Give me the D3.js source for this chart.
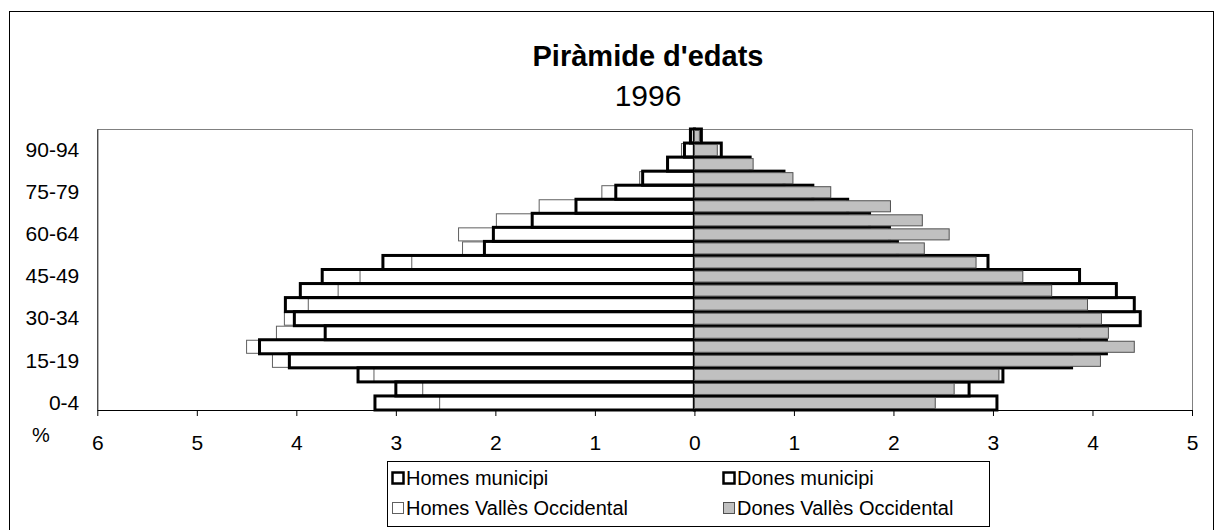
<!DOCTYPE html>
<html>
<head>
  <meta charset="utf-8">
  <title>Piràmide d'edats</title>
  <script src="https://d3js.org/d3.v7.min.js"></script>
  <style>
    body { margin: 0; background: #fff; }
    svg { display: block; font-family: "Liberation Sans", Arial, sans-serif; }
    .axis path, .axis line { stroke: #000; }
    .axis text { font-size: 21px; fill: #000; }
  </style>
</head>
<body>
  <svg width="1223" height="530"></svg>
  <script>
    // age groups, bottom to top
    const ages = ["0-4", "5-9", "10-14", "15-19", "20-24", "25-29", "30-34", "35-39", "40-44",
      "45-49", "50-54", "55-59", "60-64", "65-69", "70-74", "75-79", "80-84", "85-89", "90-94", "95-99"];
    const ageLabels = ["0-4", "15-19", "30-34", "45-49", "60-64", "75-79", "90-94"];

    // % of population
    const homesMunicipi = [3.21, 3.00, 3.38, 4.07, 4.37, 3.71, 4.02, 4.11, 3.96, 3.74,
      3.13, 2.11, 2.02, 1.63, 1.19, 0.79, 0.52, 0.27, 0.10, 0.04];
    const homesValles = [2.56, 2.73, 3.22, 4.24, 4.50, 4.20, 4.12, 3.88, 3.58, 3.36,
      2.84, 2.33, 2.37, 1.99, 1.56, 0.93, 0.55, 0.26, 0.13, 0.03];
    const donesMunicipi = [3.04, 2.76, 3.10, 3.79, 4.14, 3.87, 4.48, 4.42, 4.24, 3.87,
      2.95, 2.04, 1.96, 1.76, 1.54, 1.19, 0.90, 0.56, 0.27, 0.07];
    const donesValles = [2.42, 2.61, 3.06, 4.08, 4.42, 4.16, 4.09, 3.95, 3.59, 3.30,
      2.83, 2.31, 2.56, 2.29, 1.97, 1.37, 0.99, 0.59, 0.23, 0.05];

    const xTicks = [-6, -5, -4, -3, -2, -1, 0, 1, 2, 3, 4, 5];

    const svg = d3.select("svg");

    // outer chart frame
    svg.append("rect")
      .attr("x", 9.5).attr("y", 11.5)
      .attr("width", 1204).attr("height", 560)
      .attr("fill", "none").attr("stroke", "#000");

    const plot = { left: 97.3, right: 1192, top: 129, bottom: 410 };

    const x = d3.scaleLinear().domain([-6, 5]).range([plot.left, plot.right]);
    const y = d3.scaleBand().domain(ages.slice().reverse()).range([plot.top, plot.bottom]).padding(0);

    // plot area border (top & right)
    svg.append("path")
      .attr("d", `M${plot.left},${plot.top + 0.5}H${plot.right + 0.5}V${plot.bottom}`)
      .attr("fill", "none").attr("stroke", "#808080");

    const bars = svg.append("g");

    function drawSeries(values, side, fill, stroke, width, inset) {
      bars.append("g")
        .selectAll("rect")
        .data(values)
        .join("rect")
        .attr("x", d => side < 0 ? x(-d) : x(0))
        .attr("y", (d, i) => y(ages[i]) + inset)
        .attr("width", d => Math.abs(x(d) - x(0)))
        .attr("height", y.bandwidth() - 2 * inset)
        .attr("fill", fill)
        .attr("stroke", stroke)
        .attr("stroke-width", width);
    }

    // men: region series under, municipality outline on top
    drawSeries(homesValles, -1, "#fff", "#606060", 1, 0.5);
    drawSeries(homesMunicipi, -1, "none", "#000", 3, 0);
    // women: municipality under, region series on top
    drawSeries(donesMunicipi, 1, "#fff", "#000", 3, 0);
    drawSeries(donesValles, 1, "#c0c0c0", "#505050", 1, 1.5);

    // x axis
    svg.append("g")
      .attr("class", "axis")
      .attr("transform", `translate(0,${plot.bottom})`)
      .call(d3.axisBottom(x).tickValues(xTicks).tickFormat(d => Math.abs(d))
        .tickSize(6).tickPadding(19).tickSizeOuter(0));

    // y axis
    svg.append("g")
      .attr("class", "axis")
      .attr("transform", `translate(${plot.left},0)`)
      .call(d3.axisLeft(y).tickValues(ageLabels).tickSize(0).tickPadding(18).tickSizeOuter(0));

    svg.append("text")
      .attr("x", 41).attr("y", 442)
      .attr("text-anchor", "middle")
      .attr("font-size", 20)
      .text("%");

    // titles
    svg.append("text")
      .attr("x", 648).attr("y", 66)
      .attr("text-anchor", "middle")
      .attr("font-size", 29).attr("font-weight", "bold")
      .text("Piràmide d'edats");
    svg.append("text")
      .attr("x", 648).attr("y", 106)
      .attr("text-anchor", "middle")
      .attr("font-size", 30)
      .text("1996");

    // legend
    const legendItems = [
      { name: "Homes municipi", fill: "#fff", stroke: "#000", w: 2.5, col: 0, row: 0 },
      { name: "Dones municipi", fill: "#fff", stroke: "#000", w: 2.5, col: 1, row: 0 },
      { name: "Homes Vallès Occidental", fill: "#fff", stroke: "#606060", w: 1, col: 0, row: 1 },
      { name: "Dones Vallès Occidental", fill: "#c0c0c0", stroke: "#505050", w: 1, col: 1, row: 1 }
    ];

    svg.append("rect")
      .attr("x", 387.5).attr("y", 461.5)
      .attr("width", 602).attr("height", 65)
      .attr("fill", "#fff").attr("stroke", "#000");

    const colX = [392, 723];
    const rowY = [478, 508];

    const leg = svg.append("g").selectAll("g")
      .data(legendItems)
      .join("g")
      .attr("transform", d => `translate(${colX[d.col]},${rowY[d.row]})`);

    leg.append("rect")
      .attr("x", 0.5).attr("y", -5.5)
      .attr("width", 11).attr("height", 11)
      .attr("fill", d => d.fill)
      .attr("stroke", d => d.stroke)
      .attr("stroke-width", d => d.w);

    leg.append("text")
      .attr("x", 14).attr("y", 7)
      .attr("font-size", 20)
      .text(d => d.name);
  </script>
</body>
</html>
